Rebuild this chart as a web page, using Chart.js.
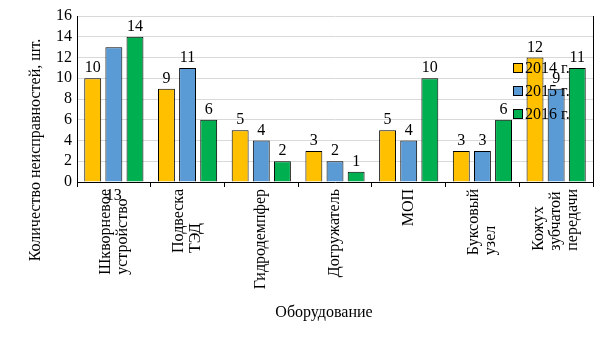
<!DOCTYPE html>
<html>
<head>
<meta charset="utf-8">
<script src="https://cdn.jsdelivr.net/npm/chart.js@4.4.0/dist/chart.umd.min.js"></script>
<style>
html,body{margin:0;padding:0;background:#fff;}
#wrap{width:605px;height:340px;position:relative;}
</style>
</head>
<body>
<div id="wrap"><canvas id="c" width="605" height="340"></canvas></div>
<script>
const categories = [
  ["Шкворневое", "устройство"],
  ["Подвеска", "ТЭД"],
  ["Гидродемпфер"],
  ["Догружатель"],
  ["МОП"],
  ["Буксовый", "узел"],
  ["Кожух", "зубчатой", "передачи"]
];
const seriesNames = ["2014 г.", "2015 г.", "2016 г."];
const values2014 = [10, 9, 5, 3, 5, 3, 12];
const values2015 = [13, 11, 4, 2, 4, 3, 9];
const values2016 = [14, 6, 2, 1, 10, 6, 11];
const seriesColors = ["#FFC000", "#5B9BD5", "#00B050"];
const yTicks = [0, 2, 4, 6, 8, 10, 12, 14, 16];
const yTitle = "Количество неисправностей, шт.";
const xTitle = "Оборудование";

const FONT = '16px "Liberation Serif", "Times New Roman", serif';

const extras = {
  id: 'extras',
  afterDatasetsDraw(chart) {
    const ctx = chart.ctx;
    const area = chart.chartArea;
    const xs = chart.scales.x;
    ctx.save();
    // right border
    ctx.strokeStyle = '#000';
    ctx.lineWidth = 1;
    ctx.beginPath();
    ctx.moveTo(Math.round(area.right) + 0.5, area.top);
    ctx.lineTo(Math.round(area.right) + 0.5, area.bottom);
    ctx.stroke();

    ctx.font = FONT;
    ctx.fillStyle = '#000';

    // legend (drawn over bars)
    const lx = 513, ly0 = 63, step = 23;
    chart.data.datasets.forEach((ds, i) => {
      const y = ly0 + i * step;
      ctx.fillStyle = ds.backgroundColor;
      ctx.fillRect(lx, y, 9, 9);
      ctx.strokeStyle = '#000';
      ctx.strokeRect(lx + 0.5, y + 0.5, 9, 9);
      ctx.fillStyle = '#000';
      ctx.textAlign = 'left';
      ctx.textBaseline = 'alphabetic';
      ctx.fillText(ds.label, lx + 12, y + 10);
    });

    // data labels
    ctx.textAlign = 'center';
    ctx.textBaseline = 'alphabetic';
    ctx.fillStyle = '#000';
    chart.data.datasets.forEach((ds, di) => {
      const meta = chart.getDatasetMeta(di);
      meta.data.forEach((bar, i) => {
        const v = ds.data[i];
        let y = bar.y - 6;
        if (di === 1 && i === 0) y = area.bottom + 18; // label misplaced in the original
        ctx.fillText(String(v), bar.x, y);
      });
    });

    // x category labels, rotated
    categories.forEach((lines, i) => {
      const cx = xs.getPixelForValue(i);
      let maxW = 0;
      lines.forEach(l => { maxW = Math.max(maxW, ctx.measureText(l).width); });
      const bottom = area.bottom + 7 + maxW;
      const lh = 17;
      ctx.save();
      ctx.translate(cx, bottom);
      ctx.rotate(-Math.PI / 2);
      ctx.textAlign = 'left';
      ctx.textBaseline = 'middle';
      lines.forEach((l, j) => {
        ctx.fillText(l, 0, (j - (lines.length - 1) / 2) * lh);
      });
      ctx.restore();
    });

    // axis titles
    ctx.save();
    ctx.translate(40, 150);
    ctx.rotate(-Math.PI / 2);
    ctx.textAlign = 'center';
    ctx.textBaseline = 'alphabetic';
    ctx.fillText(yTitle, 0, 0);
    ctx.restore();

    ctx.textAlign = 'center';
    ctx.textBaseline = 'alphabetic';
    ctx.fillText(xTitle, 324, 317);
    ctx.restore();
  }
};

new Chart(document.getElementById('c'), {
  type: 'bar',
  data: {
    labels: categories.map(c => c.join(' ')),
    datasets: [
      { label: seriesNames[0], data: values2014, backgroundColor: seriesColors[0] },
      { label: seriesNames[1], data: values2015, backgroundColor: seriesColors[1] },
      { label: seriesNames[2], data: values2016, backgroundColor: seriesColors[2] }
    ].map(d => Object.assign(d, { borderColor: '#000', borderWidth: 1, categoryPercentage: 0.86, barPercentage: 0.8 }))
  },
  options: {
    responsive: false,
    animation: false,
    devicePixelRatio: 1,
    layout: { padding: { left: 0, right: 12, top: 16, bottom: 0 } },
    plugins: { legend: { display: false }, tooltip: { enabled: false } },
    scales: {
      x: {
        offset: true,
        afterFit: s => { s.height = 158; },
        ticks: { display: false },
        grid: { display: true, offset: true, drawOnChartArea: false, drawTicks: true, tickLength: 5, color: '#000' },
        border: { display: true, color: '#000' }
      },
      y: {
        min: 0, max: 16,
        afterFit: s => { s.width = 77; },
        afterBuildTicks: s => { s.ticks = yTicks.map(v => ({ value: v })); },
        ticks: { color: '#000', autoSkip: false, font: { family: '"Liberation Serif", "Times New Roman", serif', size: 16 }, padding: 5 },
        grid: { color: '#d9d9d9', drawTicks: false },
        border: { display: true, color: '#000' }
      }
    }
  },
  plugins: [extras]
});
</script>
</body>
</html>
